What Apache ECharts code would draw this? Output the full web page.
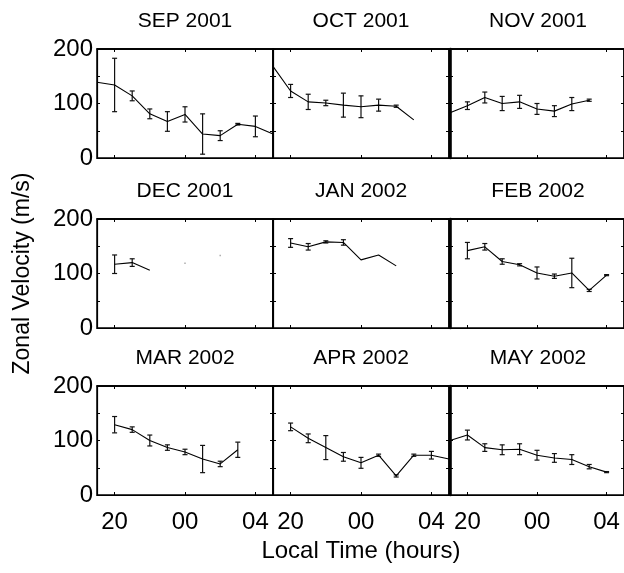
<!DOCTYPE html>
<html>
<head>
<meta charset="utf-8">
<script src="https://cdn.jsdelivr.net/npm/echarts@6/dist/echarts.min.js"></script>
<style>
  html, body { margin: 0; padding: 0; background: #fff; }
  #chart { width: 624px; height: 573px; }
</style>
</head>
<body>
<div id="chart"></div>
<script>
// Local time of each hourly bin (hours after midnight wrap past 24)
const hours = [19, 20, 21, 22, 23, 24, 25, 26, 27, 28, 29];
const xTicks = [20, 24, 28];
const yTop = 200;

const monthNames = ['SEP 2001', 'OCT 2001', 'NOV 2001',
                    'DEC 2001', 'JAN 2002', 'FEB 2002',
                    'MAR 2002', 'APR 2002', 'MAY 2002'];

// Mean zonal velocity (m/s) and its error per hourly bin
const sepVel = [139, 134, 114, 81, 67, 80, 44, 41, 62, 58, 44];
const sepErr = [null, 49, 9, 9, 18, 14, 37, 9, 1.5, 19, null];
const octVel = [168, 123, 103, 101, 97, 94, 97, 95, 70, null, null];
const octErr = [null, 12, 14, 5, 22, 20, 11, 2, null, null, null];
const novVel = [83, 96, 111, 100, 103, 90, 86, 99, 106, null, null];
const novErr = [null, 7, 10, 13, 12, 10, 10, 12, 2, null, null];
const decVel = [null, 117, 120, 106, null, null, null, null, null, null, null];
const decErr = [null, 17, 7, null, null, null, null, null, null, null, null];
const decLone = [null, null, null, null, null, 119, null, 133, null, null, null];
const janVel = [null, 156, 149, 158, 157, 125, 134, 114, null, null, null];
const janErr = [null, 8, 6, 2, 5, null, null, null, null, null, null];
const febVel = [null, 142, 149, 122, 116, 101, 95, 101, 69, 97, null];
const febErr = [null, 15, 6, 5, 2, 11, 4, 27, 2, 1, null];
const marVel = [null, 129, 120, 100, 87, 79, 66, 57, 83, null, null];
const marErr = [null, 15, 5, 10, 5, 5, 25, 5, 14, null, null];
const aprVel = [null, 125, 104, 87, 70, 59, 73, 35, 73, 73, 66];
const aprErr = [null, 7, 8, 22, 8, 10, 2, 2, 2, 7, null];
const mayVel = [100, 110, 87, 83, 84, 73, 68, 65, 52, 42, null];
const mayErr = [null, 9, 7, 9, 10, 9, 8, 9, 4, 1, null];

const panels = [
  { vel: sepVel, err: sepErr }, { vel: octVel, err: octErr }, { vel: novVel, err: novErr },
  { vel: decVel, err: decErr, lone: decLone }, { vel: janVel, err: janErr }, { vel: febVel, err: febErr },
  { vel: marVel, err: marErr }, { vel: aprVel, err: aprErr }, { vel: mayVel, err: mayErr }
];

const FONT = 'Liberation Sans, Arial, Helvetica, sans-serif';
const TITLE_FS = 21;
const TICK_FS = 24;
const NAME_FS = 23;
const colLeft = [97, 273, 450];
const rowTop = [49, 219, 386];
const W = 176, H = 109;

const fmtHour = v => String(v % 24).padStart(2, '0');

function axisLineStyle(w) {
  return { show: true, onZero: false, lineStyle: { color: '#000', width: w } };
}
function tickStyle(values) {
  const t = { show: true, inside: true, length: 3, lineStyle: { color: '#000', width: 1 } };
  if (values) t.customValues = values.slice();
  return t;
}

function renderErr(params, api) {
  const x = api.value(0), v = api.value(1), e = api.value(2);
  const hi = api.coord([x, v + e]);
  const lo = api.coord([x, v - e]);
  const cap = 2.5;
  return {
    type: 'group',
    children: [
      { type: 'line', shape: { x1: hi[0], y1: hi[1], x2: lo[0], y2: lo[1] }, style: { stroke: '#111', lineWidth: 1.2 } },
      { type: 'line', shape: { x1: hi[0] - cap, y1: hi[1], x2: hi[0] + cap, y2: hi[1] }, style: { stroke: '#111', lineWidth: 1.2 } },
      { type: 'line', shape: { x1: lo[0] - cap, y1: lo[1], x2: lo[0] + cap, y2: lo[1] }, style: { stroke: '#111', lineWidth: 1.2 } }
    ]
  };
}

const grid = [], xAxis = [], yAxis = [], series = [], title = [];

panels.forEach((p, i) => {
  const r = Math.floor(i / 3), c = i % 3;
  grid.push({
    left: colLeft[c], top: rowTop[r], width: W, height: H,
    show: true, borderColor: '#000', borderWidth: 1.5
  });

  // bottom time axis (labelled on the last row) and its mirror on top
  xAxis.push({
    gridIndex: i, type: 'value', min: 19, max: 29, position: 'bottom',
    axisLine: axisLineStyle(1.2),
    axisTick: tickStyle(xTicks),
    axisLabel: {
      show: r === 2, customValues: xTicks.slice(), formatter: fmtHour,
      fontFamily: FONT, fontSize: TICK_FS, color: '#000', margin: 15
    },
    splitLine: { show: false },
    name: (r === 2 && c === 1) ? 'Local Time (hours)' : '',
    nameLocation: 'middle', nameGap: 44,
    nameTextStyle: { fontFamily: FONT, fontSize: NAME_FS + 1, color: '#000' }
  });
  xAxis.push({
    gridIndex: i, type: 'value', min: 19, max: 29, position: 'top',
    axisLine: axisLineStyle(1.5),
    axisTick: tickStyle(xTicks),
    axisLabel: { show: false }, splitLine: { show: false }
  });

  // left velocity axis (labelled on the first column) and its mirror on the right
  yAxis.push({
    gridIndex: i, type: 'value', min: 0, max: yTop, interval: 50, position: 'left',
    axisLine: axisLineStyle(c === 2 ? 2.6 : 1.2),
    axisTick: tickStyle(null),
    axisLabel: {
      show: c === 0, formatter: v => (v % 100 === 0 ? String(v) : ''),
      fontFamily: FONT, fontSize: TICK_FS, color: '#000', margin: 4
    },
    splitLine: { show: false },
    name: (r === 1 && c === 0) ? 'Zonal Velocity (m/s)' : '',
    nameLocation: 'middle', nameGap: 63,
    nameTextStyle: { fontFamily: FONT, fontSize: NAME_FS, color: '#000' }
  });
  yAxis.push({
    gridIndex: i, type: 'value', min: 0, max: yTop, interval: 50, position: 'right',
    axisLine: axisLineStyle(1.5),
    axisTick: tickStyle(null),
    axisLabel: { show: false }, splitLine: { show: false }
  });

  // velocity curve; its markLine closes the panel frame along the axis maximum
  series.push({
    type: 'line', xAxisIndex: 2 * i, yAxisIndex: 2 * i, clip: false,
    data: hours.map((h, k) => [h, p.vel[k] == null ? '-' : p.vel[k]]),
    showSymbol: false, connectNulls: false,
    lineStyle: { color: '#000', width: 1.1 },
    markLine: {
      silent: true, symbol: ['none', 'none'], animation: false,
      label: { show: false },
      lineStyle: { color: '#000', width: 1.5, type: 'solid' },
      emphasis: { disabled: true },
      data: [{ yAxis: yTop }]
    }
  });

  const errData = [];
  hours.forEach((h, k) => {
    if (p.err[k] != null && p.vel[k] != null) errData.push([h, p.vel[k], p.err[k]]);
  });
  series.push({
    type: 'custom', xAxisIndex: 2 * i, yAxisIndex: 2 * i,
    renderItem: renderErr, data: errData, encode: { x: 0, y: 1 }
  });

  if (p.lone) {
    const loneData = [];
    hours.forEach((h, k) => { if (p.lone[k] != null) loneData.push([h, p.lone[k]]); });
    series.push({
      type: 'scatter', xAxisIndex: 2 * i, yAxisIndex: 2 * i,
      data: loneData, symbol: 'rect', symbolSize: 1.5,
      itemStyle: { color: '#999' }
    });
  }

  // month heading centred over its panel
  title.push({
    text: monthNames[i],
    left: colLeft[c] + W / 2 - 5, top: rowTop[r] - 43,
    textAlign: 'center',
    textStyle: { fontFamily: FONT, fontSize: TITLE_FS, fontWeight: 'normal', color: '#000' }
  });
});

const chart = echarts.init(document.getElementById('chart'));
chart.setOption({ animation: false, title, grid, xAxis, yAxis, series });
</script>
</body>
</html>
